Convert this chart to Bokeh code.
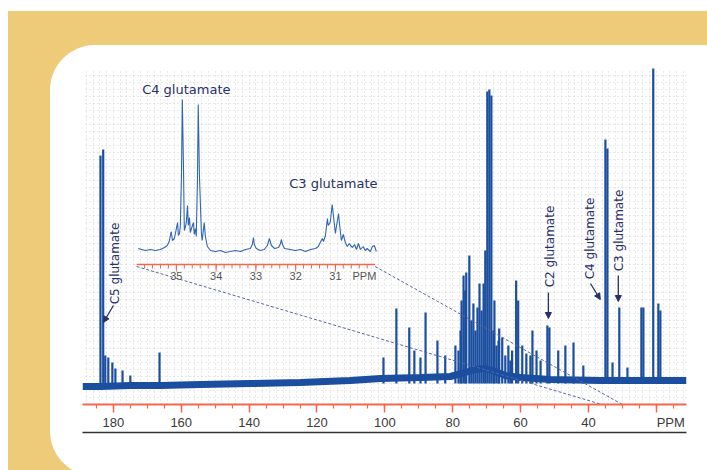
import numpy as np
from urllib.parse import quote
from bokeh.plotting import figure
from bokeh.models import (Range1d, FixedTicker, LinearAxis, Arrow, NormalHead,
                          InlineStyleSheet, ColumnDataSource)
from bokeh.core.properties import value
from bokeh.embed import file_html
from bokeh.resources import INLINE

# ---------------- data ----------------
# baseline of the full 13C spectrum (ppm, intensity)
base_ppm = [189.1, 183.8, 175.0, 166.1, 154.4, 139.6, 124.9, 110.2, 101.3, 89.5, 80.7,
            76.3, 73.3, 70.4, 67.4, 64.5, 60.0, 51.2, 36.5, 21.7, 11.1]
base_int = [-3, -3, -2, -2, -1, 0, 1, 3, 5, 6, 7, 11, 14, 15, 12, 8, 6, 4, 3, 3, 3]

# peaks of the full spectrum (ppm, peak height)
peak_ppm = [183.8, 183.0, 182.4, 181.5, 180.3, 179.4, 177.3, 175.0, 166.4,
            100.4, 96.6, 92.8, 91.3, 89.5, 88.0, 84.5, 82.2, 79.2, 78.3, 77.7, 77.4,
            76.8, 76.3, 76.0, 75.1, 74.5, 73.9, 73.3, 72.7, 72.1, 71.5, 70.9, 70.4,
            69.8, 69.2, 68.6, 68.0, 67.7, 67.1, 66.5, 66.3, 65.4, 64.5, 63.6, 63.0,
            62.5, 61.3, 60.7, 59.5, 58.3, 57.1, 56.5, 55.3, 54.1, 52.1, 51.5, 48.9,
            46.8, 44.4, 41.5, 35.0, 34.4, 32.9, 30.9, 28.5, 24.4, 23.8, 20.9, 19.4, 18.8]
peak_int = [228, 234, 28, 26, 21, 15, 13, 8, 31,
            26, 75, 56, 33, 26, 71, 43, 28, 38, 33, 53, 83,
            108, 93, 111, 128, 63, 80, 53, 76, 100, 73, 100, 133,
            292, 294, 288, 53, 83, 38, 43, 55, 46, 28, 38, 23,
            33, 103, 83, 38, 30, 28, 53, 33, 23, 58, 56, 33,
            38, 41, 18, 244, 235, 21, 76, 16, 76, 76, 343, 80, 73]

# expanded region 36-30 ppm (inset)
inset_ppm = [35.96, 35.78, 35.65, 35.53, 35.40, 35.30, 35.23, 35.18, 35.13, 35.10, 35.05,
             35.00, 34.97, 34.95, 34.92, 34.90, 34.87, 34.85, 34.82, 34.80, 34.77, 34.75,
             34.72, 34.70, 34.67, 34.65, 34.62, 34.57, 34.55, 34.52, 34.50, 34.47, 34.45,
             34.42, 34.37, 34.35, 34.30, 34.27, 34.22, 34.14, 34.02, 33.89, 33.77, 33.64,
             33.52, 33.39, 33.26, 33.14, 33.09, 33.06, 33.04, 32.99, 32.89, 32.79, 32.71,
             32.66, 32.61, 32.53, 32.43, 32.38, 32.36, 32.33, 32.28, 32.13, 32.01, 31.88,
             31.75, 31.63, 31.50, 31.43, 31.38, 31.33, 31.30, 31.25, 31.20, 31.18, 31.13,
             31.08, 31.05, 31.00, 30.97, 30.92, 30.90, 30.85, 30.80, 30.75, 30.70, 30.65,
             30.62, 30.57, 30.52, 30.47, 30.42, 30.37, 30.30, 30.25, 30.20, 30.12, 30.07,
             30.02, 29.97]
inset_int = [2, 0, 1, 0, 1, 3, 5, 9, 19, 10, 12,
             22, 28, 15, 17, 25, 80, 151, 80, 20, 24, 28,
             45, 25, 33, 18, 22, 28, 16, 22, 14, 70, 146,
             75, 17, 10, 28, 14, 4, 0, -1, 0, -2, -1,
             0, -1, 1, 2, 6, 13, 6, 2, 0, 1, 5,
             12, 5, 2, 3, 7, 11, 6, 2, 1, 0, 1,
             -1, 1, 2, 4, 8, 12, 9, 15, 32, 25, 28,
             46, 35, 17, 25, 37, 28, 10, 16, 8, 4, 7,
             5, 3, 6, 1, 7, 1, 4, 0, 2, -1, 4,
             5, -1]

x_ticks = [180, 160, 140, 120, 100, 80, 60, 40, 20]
x_tick_labels = ["180", "160", "140", "120", "100", "80", "60", "40", "\u00a0" * 8 + "PPM"]
inset_window = [36, 30]
inset_ticks = [35, 34, 33, 32, 31]
inset_tick_labels = ["35", "34", "33", "32", "31"]

peak_labels = ["C5 glutamate", "C2 glutamate", "C4 glutamate", "C3 glutamate"]
peak_label_x = [179.4, 51.2, 39.4, 30.9]
peak_label_y = [120, 137, 145, 153]
arrow_x0 = [180.0, 51.8, 39.4, 31.2]
arrow_y0 = [78, 91, 100, 108]
arrow_x1 = [182.95, 51.8, 36.5, 31.2]
arrow_y1 = [61, 65, 84, 82]

inset_labels = ["C4 glutamate", "C3 glutamate"]
inset_label_x = [34.75, 31.05]
inset_label_y = [161, 67]

# ---------------- styling ----------------
BLUE = "#1B4E9F"
INSET_BLUE = "#2F64B6"
NAVY = "#26306A"
RED = "#F2684C"

svg_bg = ("<svg xmlns='http://www.w3.org/2000/svg' width='707' height='470'>"
          "<rect x='8' y='11' width='699' height='459' fill='#EECB78'/>"
          "<rect x='50' y='45' width='720' height='431' rx='45' ry='45' fill='#FFFFFF'/>"
          "</svg>")
css = (':host { position: relative; background-image: url("data:image/svg+xml;charset=utf-8,'
       + quote(svg_bg) + '"); background-repeat: no-repeat; }')

p = figure(width=707, height=470, x_range=Range1d(189.1, 11.1), y_range=Range1d(-21, 315),
           output_backend="svg", toolbar_location=None,
           min_border_left=82, min_border_right=21, min_border_top=68, min_border_bottom=66,
           border_fill_color=None, background_fill_color=None, outline_line_color=None)
p.stylesheets = [InlineStyleSheet(css=css)]
p.yaxis.visible = False

# dotted background grid
p.xgrid.ticker = FixedTicker(ticks=list(np.arange(12, 190, 2)))
p.ygrid.ticker = FixedTicker(ticks=list(np.arange(-21, 316, 7)))
for g in (p.xgrid[0], p.ygrid[0]):
    g.grid_line_color = "#c8c8c8"
    g.grid_line_dash = "1 3"
    g.grid_line_alpha = 0.8

# main axis
ax = p.xaxis[0]
ax.ticker = FixedTicker(ticks=x_ticks, minor_ticks=list(range(15, 190, 5)))
ax.major_label_overrides = {t: l for t, l in zip(x_ticks, x_tick_labels)}
ax.axis_line_color = RED
ax.axis_line_width = 2
ax.major_tick_line_color = RED
ax.major_tick_line_width = 1.5
ax.major_tick_in = 0
ax.major_tick_out = 8
ax.minor_tick_line_color = RED
ax.minor_tick_line_width = 1.2
ax.minor_tick_in = 0
ax.minor_tick_out = 4
ax.major_label_standoff = 2
ax.major_label_text_line_height = 0.9
ax.major_label_text_font = "Liberation Sans"
ax.major_label_text_font_size = "13px"
ax.major_label_text_color = "#3a3a3a"

bottom_line = LinearAxis(ticker=FixedTicker(ticks=[]), axis_line_color="#333333",
                         axis_line_width=1.5, major_tick_line_color=None,
                         minor_tick_line_color=None, major_label_text_font_size="0px")
p.add_layout(bottom_line, "below")

# spectrum
p.line(base_ppm, base_int, line_width=7, color=BLUE)
p.segment(x0=peak_ppm, y0=0, x1=peak_ppm, y1=peak_int, line_width=2.2, color=BLUE)

# inset (expanded region) via sub-coordinates
x_tgt = Range1d(173.15, 102.86)
y_tgt = Range1d(133, 284)
ins = p.subplot(x_source=Range1d(inset_window[0], inset_window[1]), y_source=Range1d(0, 151),
                x_target=x_tgt, y_target=y_tgt)

# dashed connectors from inset axis to the main axis
p.segment(x0=[x_tgt.start, x_tgt.end], y0=[117, 117], x1=inset_window, y1=[-21, -21],
          line_dash="3 2", line_color="#5865A6", line_width=1)

ins.line(inset_ppm, inset_int, line_width=1.1, color=INSET_BLUE)
ins.segment(x0=[inset_window[0]], y0=[-14], x1=[inset_window[1]], y1=[-14],
            line_color=RED, line_width=1.5)
minor = [round(v, 1) for v in np.arange(35.8, 30.0, -0.2)]
ins.segment(x0=minor, y0=-14, x1=minor, y1=-18, line_color=RED, line_width=1)
ins.segment(x0=inset_ticks, y0=-14, x1=inset_ticks, y1=-21, line_color=RED, line_width=1)
ins.text(x=inset_ticks, y=-25, text=inset_tick_labels, text_align="center",
         text_baseline="middle", text_font=value("Liberation Sans"),
         text_font_size="11px", text_color="#555555")
ins.text(x=[30.27], y=[-25], text=["PPM"], text_align="center", text_baseline="middle",
         text_font=value("Liberation Sans"), text_font_size="11px", text_color="#555555")
ins.text(x=inset_label_x, y=inset_label_y, text=inset_labels, text_align="center",
         text_baseline="middle", text_font=value("DejaVu Sans"), text_font_size="13px",
         text_color=NAVY)

# rotated peak labels and arrows
p.text(x=peak_label_x, y=peak_label_y, text=peak_labels, angle=np.pi / 2,
       text_align="center", text_baseline="middle", text_font=value("DejaVu Sans"),
       text_font_size="12px", text_color=NAVY)
arrow_src = ColumnDataSource(dict(x0=arrow_x0, y0=arrow_y0, x1=arrow_x1, y1=arrow_y1))
p.add_layout(Arrow(x_start="x0", y_start="y0", x_end="x1", y_end="y1", source=arrow_src,
                   line_color=NAVY, line_width=1.3,
                   end=NormalHead(size=6, fill_color=NAVY, line_color=NAVY)))

open("out.html", "w").write(file_html(p, INLINE))
